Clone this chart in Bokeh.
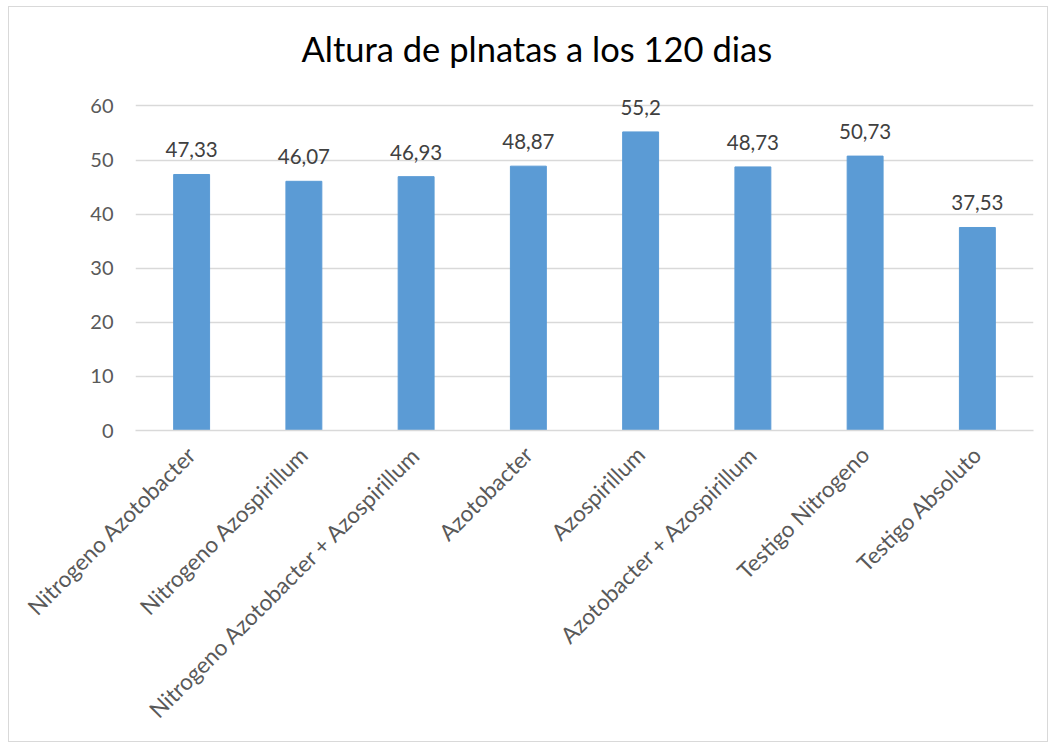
import math
from bokeh.plotting import figure
from bokeh.models import ColumnDataSource, FactorRange, LabelSet
from bokeh.core.properties import value
from bokeh.embed import file_html
from bokeh.resources import INLINE

categories = ["Nitrogeno Azotobacter", "Nitrogeno Azospirillum",
              "Nitrogeno Azotobacter + Azospirillum", "Azotobacter",
              "Azospirillum", "Azotobacter + Azospirillum",
              "Testigo Nitrogeno", "Testigo Absoluto"]
alturas = [47.33, 46.07, 46.93, 48.87, 55.2, 48.73, 50.73, 37.53]
y_ticks = [0, 10, 20, 30, 40, 50, 60]

labels = [str(v).replace(".", ",") for v in alturas]
src = ColumnDataSource(dict(cat=categories, val=alturas, lab=labels))

FONT = "Lato"
GREY = "#595959"

# y range extended above 60 so that the data label of the tallest bar is not clipped
p = figure(width=1040, height=736, x_range=FactorRange(*categories), y_range=(0, 66),
           output_backend="svg", toolbar_location=None,
           min_border_left=126, min_border_right=16, min_border_top=66, min_border_bottom=313)
p.styles = {"border": "1px solid #D9D9D9", "box-sizing": "border-box",
            "margin-left": "8px", "margin-top": "6px"}

p.vbar(x="cat", top="val", width=0.32, source=src, fill_color="#5B9BD5", line_color="#5B9BD5")
p.add_layout(LabelSet(x="cat", y="val", text="lab", source=src, text_align="center",
                      text_baseline="alphabetic", y_offset=17, text_font=value(FONT),
                      text_font_size="20.5px", text_color="#404040"))

p.title.text = "Altura de plnatas a los 120 dias"
p.title.align = "left"
p.title.offset = 166
p.title.standoff = 7
p.title.vertical_align = "middle"
p.title.text_font = FONT
p.title.text_font_size = "34.5px"
p.title.text_font_style = "normal"
p.title.text_color = "#000000"

p.outline_line_color = None
p.xgrid.grid_line_color = None
p.ygrid.grid_line_color = "#D9D9D9"
p.ygrid.grid_line_width = 1.3
p.yaxis.ticker = y_ticks
p.yaxis.axis_line_color = None
p.yaxis.major_tick_line_color = None
p.yaxis.minor_tick_line_color = None
p.yaxis.major_label_text_font = FONT
p.yaxis.major_label_text_font_size = "20px"
p.yaxis.major_label_text_color = GREY
p.yaxis.major_label_standoff = 16

p.xaxis.axis_line_color = "#D9D9D9"
p.xaxis.axis_line_width = 1.3
p.xaxis.major_tick_line_color = None
p.xaxis.minor_tick_line_color = None
p.xaxis.major_label_orientation = math.pi / 4
p.xaxis.major_label_text_font = FONT
p.xaxis.major_label_text_font_size = "22.5px"
p.xaxis.major_label_text_color = GREY
p.xaxis.major_label_standoff = 14
p.x_range.range_padding = 0

open("out.html", "w").write(file_html(p, INLINE))
